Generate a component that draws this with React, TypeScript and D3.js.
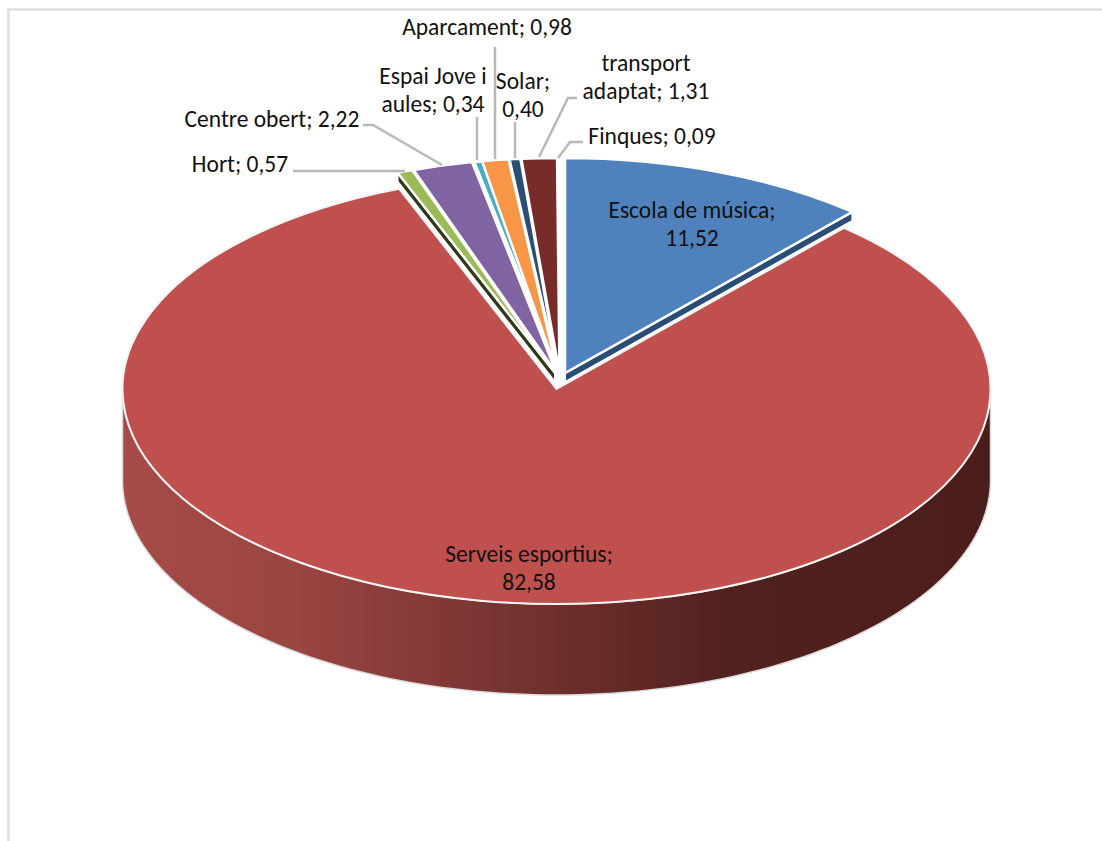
import React from "react";
import * as d3 from "d3";

const categories = ["Escola de música", "Serveis esportius", "Hort", "Centre obert", "Espai Jove i aules", "Aparcament", "Solar", "transport adaptat", "Finques"];
const values = [11.52, 82.58, 0.57, 2.22, 0.34, 0.98, 0.4, 1.31, 0.09];
const topColors = ["#4F81BD", "#C0504D", "#9BBB59", "#8064A2", "#4BACC6", "#F79646", "#2C4D75", "#772C2A", "#9BBB59"];
const labelLines = [["Escola de música;", "11,52"], ["Serveis esportius;", "82,58"], ["Hort; 0,57"], ["Centre obert; 2,22"], ["Espai Jove i", "aules; 0,34"], ["Aparcament; 0,98"], ["Solar;", "0,40"], ["transport", "adaptat; 1,31"], ["Finques; 0,09"]];

// layout of the picture, kept apart from the data
const labelPos: [number, number][] = [[692, 218], [529, 562], [240, 172], [272, 127], [433, 84], [487, 35], [523, 89], [646, 71], [652, 144]];
const leaders: [number, number][][] = [[], [], [[293, 171], [350, 171], [405, 171]], [[363, 125], [373, 125], [442, 165]], [[477, 117], [477, 160]], [[495, 47], [495, 159]], [[515, 122], [515, 158]], [[577, 98], [568, 98], [539, 157]], [[583, 142], [570, 142], [558, 158]]];
const explode: [number, number][] = [[8.5, -16], [0, 0], [-1.5, -16], [0, -16], [2.5, -16], [1, -16], [2, -16], [3, -16], [4, -16]];

const cx = 556.5, cy = 389, rx = 434, ry = 215, depth = 91, sideH = 9;
const k = ry / rx;

const pie = d3.pie<number>().sort(null).value((d) => d);
const arcs = pie(values);
const arcGen = d3.arc<d3.PieArcDatum<number>>().innerRadius(0).outerRadius(rx);

const px = (a: number) => cx + rx * Math.sin(a);
const py = (a: number) => cy - ry * Math.cos(a);

function frontWall(a0: number, a1: number) {
  const from = Math.max(a0, Math.PI / 2), to = Math.min(a1, (3 * Math.PI) / 2);
  const angles = d3.range(0, 121).map((i) => from + ((to - from) * i) / 120);
  const area = d3.area<number>().x(px).y0(py).y1((a) => py(a) + depth);
  return area(angles) ?? "";
}

function radialWall(a: number) {
  return `M${cx},${cy}L${px(a)},${py(a)}L${px(a)},${py(a) + sideH}L${cx},${cy + sideH}Z`;
}

const font = "Carlito, Lato, 'Open Sans', sans-serif";

export default function App() {
  const red = arcs[1];
  return (
    <svg width={1102} height={841} style={{ position: "absolute", left: 0, top: 0, background: "#fff" }}>
      <defs>
        <linearGradient id="wall" gradientUnits="userSpaceOnUse" x1={122} x2={991} y1={0} y2={0}>
          <stop offset="0" stopColor="#A64B48" />
          <stop offset="0.2" stopColor="#9A4541" />
          <stop offset="0.45" stopColor="#763330" />
          <stop offset="0.7" stopColor="#51211E" />
          <stop offset="1" stopColor="#4A1D1B" />
        </linearGradient>
      </defs>
      <path d="M8.5,841V9.5H1102" fill="none" stroke="#E0E0E0" strokeWidth={2.5} />

      <path d={frontWall(red.startAngle, red.endAngle)} fill="url(#wall)" stroke="#DADADA" strokeWidth={1.5} />

      <g transform={`translate(${explode[0][0]},${explode[0][1]})`}>
        <path d={radialWall(arcs[0].endAngle)} fill="#2A4D76" stroke="#fff" strokeWidth={2} />
      </g>
      <g transform={`translate(${explode[2][0]},${explode[2][1]})`}>
        <path d={radialWall(arcs[2].startAngle)} fill="#2F3A1A" stroke="#fff" strokeWidth={2} />
      </g>

      {arcs.map((a, i) => i === 1 ? null : (
        <g key={categories[i]} transform={`translate(${explode[i][0]},${explode[i][1]})`}>
          <path d={arcGen(a) ?? ""} transform={`translate(${cx},${cy}) scale(1,${k})`} fill={topColors[i]} stroke="#fff" strokeWidth={2.5} vectorEffect="non-scaling-stroke" />
        </g>
      ))}
      <path d={arcGen(red) ?? ""} transform={`translate(${cx},${cy}) scale(1,${k})`} fill={topColors[1]} stroke="#F4F4F4" strokeWidth={2} vectorEffect="non-scaling-stroke" />

      {leaders.map((pts, i) => pts.length ? (
        <path key={i} d={d3.line()(pts) ?? ""} fill="none" stroke="#B8B8B8" strokeWidth={2.5} />
      ) : null)}

      {labelLines.map((lines, i) => (
        <text key={i} x={labelPos[i][0]} y={labelPos[i][1]} textAnchor="middle" fontFamily={font} fontSize={23.5} fill="#111">
          {lines.map((l, j) => <tspan key={j} x={labelPos[i][0]} dy={j === 0 ? 0 : 28}>{l}</tspan>)}
        </text>
      ))}
    </svg>
  );
}
